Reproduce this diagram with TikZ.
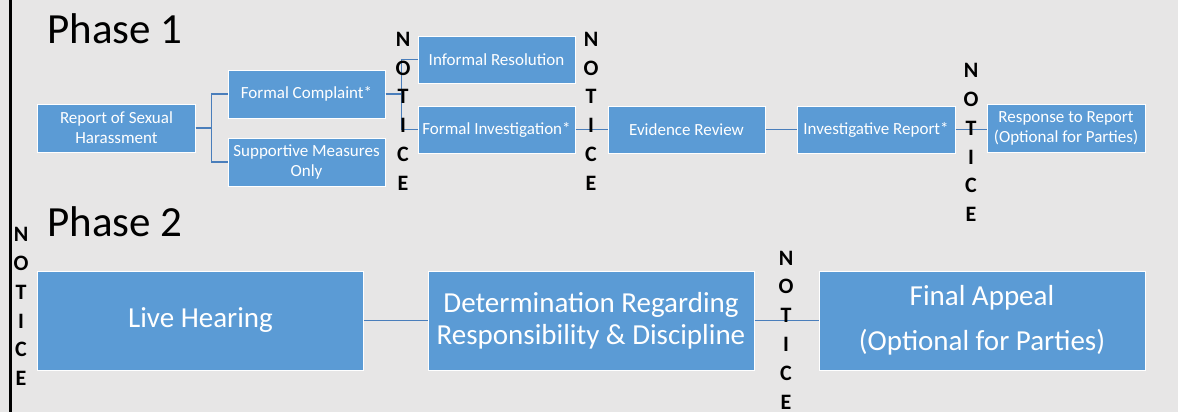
\documentclass[tikz,border=0pt]{standalone}
\usepackage{fontspec}
\setmainfont{Carlito}[BoldFont={Carlito Bold}]
\definecolor{bgc}{HTML}{E7E6E6}
\definecolor{boxc}{HTML}{5B9BD5}
\definecolor{linec}{HTML}{4A7EBB}
\tikzset{
  box/.style={fill=boxc, draw=white, line width=1bp, text=white, align=center, inner sep=0pt},
  small/.style={box, font=\fontsize{17bp}{20bp}\selectfont},
  big/.style={box, font=\fontsize{29bp}{32bp}\selectfont, minimum height=99bp},
  conn/.style={draw=linec, line width=1.5bp},
  notice/.style={align=center, inner sep=0pt, font=\bfseries\fontsize{22bp}{28.8bp}\selectfont},
  phase/.style={anchor=base west, inner sep=0pt, font=\fontsize{43bp}{46bp}\selectfont}
}
\begin{document}
\begin{tikzpicture}[x=1bp, y=-1bp]
\fill[bgc] (0,0) rectangle (1178,412);
\useasboundingbox (0,0) rectangle (1178,412);
\draw[line width=3bp] (10,0) -- (10,412);

\node[phase] (p1) at (47,43) {Phase 1};
\node[phase] (p2) at (47,236) {Phase 2};

% Phase 1 boxes
\node[small, minimum width=157bp, minimum height=48bp] (rep) at (116.5,128) {Report of Sexual\\Harassment};
\node[small, minimum width=157bp, minimum height=48bp] (fc) at (306.5,94) {Formal Complaint*};
\node[small, minimum width=157bp, minimum height=48bp] (sm) at (306.5,162) {Supportive Measures\\Only};
\node[small, minimum width=157bp, minimum height=47bp] (ir) at (496.5,59.5) {Informal Resolution};
\node[small, minimum width=157bp, minimum height=47bp] (fi) at (496.5,129.5) {Formal Investigation*};
\node[small, minimum width=157bp, minimum height=47bp] (er) at (686.5,129.5) {Evidence Review};
\node[small, minimum width=158bp, minimum height=47bp] (inv) at (876,129.5) {Investigative Report*};
\node[small, minimum width=158bp, minimum height=48bp] (resp) at (1066,128) {Response to Report\\(Optional for Parties)};

% Phase 2 boxes
\node[big, minimum width=325bp] (lh) at (200.5,320.5) {Live Hearing};
\node[big, minimum width=326bp] (det) at (591,320.5) {Determination Regarding\\Responsibility \& Discipline};
\node[big, minimum width=326bp, font=\fontsize{29bp}{45bp}\selectfont] (fa) at (982,320.5) {Final Appeal\\(Optional for Parties)};

% connectors
\draw[conn] (rep.east) -- ++(16,0) |- (fc.west);
\draw[conn] (rep.east) -- ++(16,0) |- (sm.west);
\draw[conn] (fc.east) -- ++(16,0) |- (ir.west);
\draw[conn] (fc.east) -- ++(16,0) |- (fi.west);
\draw[conn] (fi.east) -- (er.west);
\draw[conn] (er.east) -- (inv.west);
\draw[conn] (inv.east) -- (inv.east -| resp.west);
\draw[conn] (lh.east) -- (det.west);
\draw[conn] (det.east) -- (fa.west);

% NOTICE labels
\node[notice] (n1) at (403,111.25) {N\\O\\T\\I\\C\\E};
\node[notice] (n2) at (591,111.25) {N\\O\\T\\I\\C\\E};
\node[notice] (n3) at (971,142.5) {N\\O\\T\\I\\C\\E};
\node[notice] (n4) at (21,306.5) {N\\O\\T\\I\\C\\E};
\node[notice] (n5) at (786,330) {N\\O\\T\\I\\C\\E};
\end{tikzpicture}
\end{document}
